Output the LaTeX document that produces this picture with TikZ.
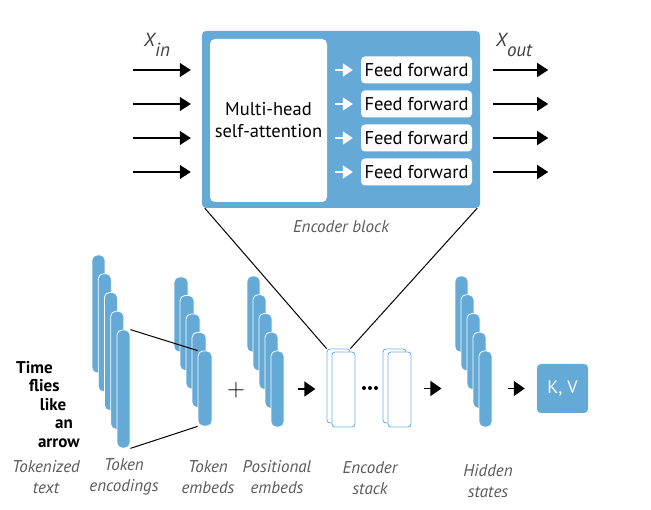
\documentclass[tikz,border=0pt]{standalone}
\usepackage{fontspec}
\setmainfont{PT Sans}
\usepackage{tikz}
\usetikzlibrary{arrows.meta,calc}
\definecolor{tblue}{RGB}{101,169,215}
\definecolor{tline}{RGB}{110,178,226}
\definecolor{tgray}{RGB}{90,90,90}

\begin{document}
\begin{tikzpicture}[x=1pt, y=-1pt,
    bar/.style={draw=white, line width=0.8pt, fill=tblue, rounded corners=5pt, inner sep=0pt},
    ffbox/.style={fill=white, rounded corners=4pt, minimum width=111pt, minimum height=27pt, inner sep=0pt, font=\fontsize{18.5}{20}\selectfont},
    capt/.style={font=\fontsize{17}{21}\selectfont\itshape, text=tgray, align=center, inner sep=0pt},
    word/.style={font=\fontsize{17}{18}\selectfont\bfseries, anchor=base east, inner sep=0pt},
    bigarr/.style={-{Triangle[length=11pt,width=14pt]}, line width=1.2pt},
    tip/.style={-{Triangle[length=11pt,width=15pt]}, line width=1.2pt},
    warr/.style={-{Triangle[length=10pt,width=13pt]}, line width=1.4pt, white},
    slab/.style={draw=tline, line width=0.9pt, fill=white, rounded corners=3pt, minimum width=23pt, minimum height=74pt, inner sep=0pt},
    xlab/.style={font=\fontsize{19}{20}\selectfont\itshape, text=tgray!70!black, inner sep=0pt}]

    \useasboundingbox (0,0) rectangle (651,510);

    \node[fill=tblue, rounded corners=4pt, minimum width=278pt, minimum height=177pt, inner sep=0pt] (blk) at (341,119.5) {};
    \node[fill=white, rounded corners=5pt, minimum width=117pt, minimum height=163pt, align=center, inner sep=0pt, font=\fontsize{18.5}{22}\selectfont] (mha) at (268.5,120.5) {Multi-head\\self-attention};

    \foreach \i/\y in {1/70,2/104,3/138,4/172} {
        \node[ffbox] (ff\i) at (416.5,\y) {Feed forward};
        \draw[warr] ($(mha.east|-ff\i)+(8,0)$) -- ($(ff\i.west)+(-8,0)$);
        \draw[bigarr] ($(blk.west|-ff\i)+(-69,0)$) -- ($(blk.west|-ff\i)+(-11,0)$);
        \draw[bigarr] ($(blk.east|-ff\i)+(13,0)$) -- ($(blk.east|-ff\i)+(68,0)$);
    }

    \node[xlab] (xin) at (157,45) {X\raisebox{-1.1ex}{in}};
    \node[xlab] (xout) at (514,45) {X\raisebox{-1.1ex}{out}};
    \node[capt] (blkcap) at (341,227) {Encoder block};

    \foreach \i in {0,...,4} {
        \node[bar, minimum width=13pt, minimum height=118pt] (enc\i) at ({98.5+6.25*\i},{314+18.75*\i}) {};
        \node[bar, minimum width=14pt, minimum height=75pt] (emb\i) at ({181+6*\i},{314.5+18.5*\i}) {};
        \node[bar, minimum width=13pt, minimum height=76pt] (pos\i) at ({253.5+6*\i},{314+18.75*\i}) {};
        \node[bar, minimum width=13pt, minimum height=76pt] (hid\i) at ({461.5+6*\i},{314+18.75*\i}) {};
    }
    \draw[line width=1pt] (enc4.north east) -- (emb4.north west);
    \draw[line width=1pt] (enc4.south east) -- (emb4.south west);

    \node[slab] (stk1b) at (338.5,386) {};
    \node[slab, minimum height=75pt] (stk1) at (343.5,389.5) {};
    \node[slab] (stk2b) at (394.5,386) {};
    \node[slab, minimum height=75pt] (stk2) at (399.5,389.5) {};
    \foreach \x in {364,370,376}
        \fill (\x,388) circle (2);

    \draw[line width=1pt] ([xshift=3pt]blk.south west) -- (stk1b.north west);
    \draw[line width=1pt] ([xshift=-3pt]blk.south east) -- (stk1b.north east);

    \node[font=\fontsize{27}{27}\selectfont, inner sep=0pt] (plus) at (236,390) {$+$};
    \node[fill=tblue, rounded corners=4pt, minimum width=51pt, minimum height=49pt, text=white, font=\fontsize{18}{18}\selectfont] (kv) at (562.5,388.5) {K, V};

    \draw[tip] ($(pos4.east)+(14,0)$) -- ($(pos4.east)+(31,0)$);
    \draw[tip] ($(stk2.east)+(13,-1)$) -- ($(stk2.east)+(30,-1)$);
    \draw[tip] ($(kv.west)+(-29,0)$) -- ($(kv.west)+(-12,0)$);

    \foreach \w [count=\k] in {Time,flies,like,an,arrow}
        \node[word] (w\k) at ({46.3+6.7*\k},{354.5+18.6*\k}) {\w};

    \node[capt] (ltok) at (46,477) {Tokenized\\text};
    \node[capt] (lenc) at (124,477) {Token\\encodings};
    \node[capt] (lemb) at (208,477) {Token\\embeds};
    \node[capt] (lpos) at (277,477) {Positional\\embeds};
    \node[capt] (lstk) at (370,478) {Encoder\\stack};
    \node[capt] (lhid) at (488,481) {Hidden\\states};
\end{tikzpicture}
\end{document}
